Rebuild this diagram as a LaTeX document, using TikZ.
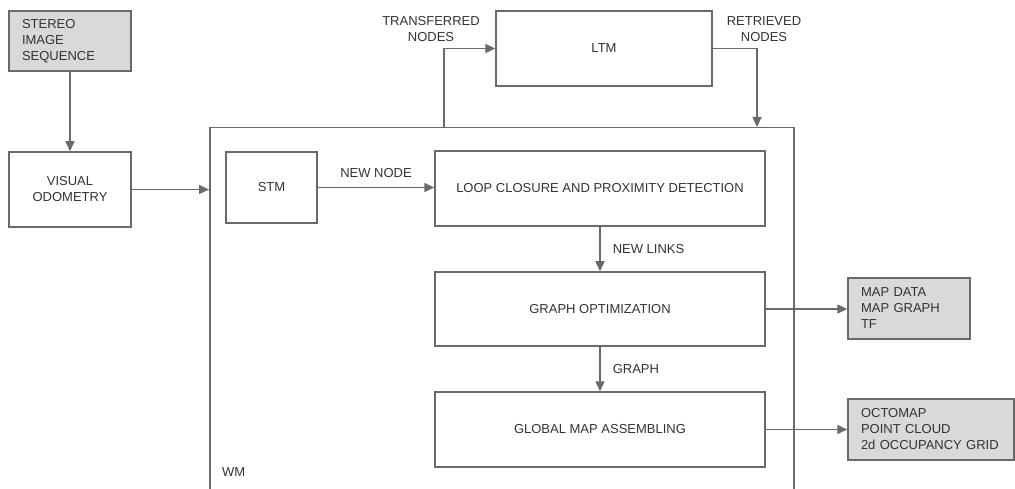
\documentclass[tikz,border=0pt]{standalone}
\usepackage{fontspec}
\setmainfont{Liberation Sans}
\usetikzlibrary{arrows.meta}
\definecolor{linegray}{HTML}{6A6A6A}
\definecolor{textgray}{HTML}{333333}
\definecolor{boxfill}{HTML}{D9D9D9}
\begin{document}
\begin{tikzpicture}[x=1pt,y=-1pt,
  font=\fontsize{13}{16}\selectfont,
  every node/.style={text=textgray},
  box/.style={draw=linegray, line width=1.5pt, fill=white, align=center, inner sep=0pt},
  outbox/.style={draw=linegray, line width=1.5pt, fill=boxfill, align=left, inner xsep=13pt, inner ysep=0pt},
  conn/.style={draw=linegray, line width=1.5pt, -{Triangle[length=10pt,width=9pt]}},
  lbl/.style={inner sep=0pt, align=center}]
\clip (0,0) rectangle (1015,489);
\fill[white] (0,0) rectangle (1015,489);

% working memory container (open below the page)
\node[draw=linegray, line width=1.5pt, minimum width=584pt, minimum height=420pt, anchor=north west, inner sep=0pt] (wm) at (209,127) {};
\node[lbl, anchor=west] (wmlabel) at (222,472) {WM};

% inputs and odometry
\node[outbox, text width=96pt, minimum height=60pt] (stereo) at (70,41) {STEREO\\IMAGE\\SEQUENCE};
\node[box, minimum width=122pt, minimum height=75pt] (vo) at (70,189.5) {VISUAL\\ODOMETRY};

% memory blocks
\node[box, minimum width=91pt, minimum height=71pt] (stm) at (271.5,187.5) {STM};
\node[box, minimum width=216pt, minimum height=75pt] (ltm) at (604,48.5) {LTM};

% processing chain
\node[box, minimum width=330pt, minimum height=75pt] (loop) at (600,188.5) {LOOP CLOSURE AND PROXIMITY DETECTION};
\node[box, minimum width=330pt, minimum height=74pt] (graph) at (600,309) {GRAPH OPTIMIZATION};
\node[box, minimum width=330pt, minimum height=75pt] (global) at (600,429.5) {GLOBAL MAP ASSEMBLING};

% outputs
\node[outbox, text width=96pt, minimum height=61pt] (mapdata) at (909,308.5) {MAP DATA\\MAP GRAPH\\TF};
\node[outbox, text width=140pt, minimum height=61pt] (octo) at (931,429.5) {OCTOMAP\\POINT CLOUD\\2d OCCUPANCY GRID};

% connectors
\draw[conn] (stereo) -- (vo);
\draw[conn] (vo.east) -- (vo.east -| wm.west);
\draw[conn] (stm.east) -- (stm.east -| loop.west)
  node[lbl, midway, above=9pt] (newnode) {NEW NODE};
\draw[conn] (loop) -- (graph)
  node[lbl, midway, right=12pt] (newlinks) {NEW LINKS};
\draw[conn] (graph) -- (global)
  node[lbl, midway, right=12pt] (graphlbl) {GRAPH};
\draw[conn] (graph.east) -- (graph.east -| mapdata.west);
\draw[conn] (global.east) -- (global.east -| octo.west);

\coordinate (transfer) at (444,127);
\coordinate (retrieve) at (757,127);
\draw[conn] (transfer) |- (ltm.west);
\draw[conn] (ltm.east) -| (retrieve);
\node[lbl] (transferlbl) at (431,29) {TRANSFERRED\\NODES};
\node[lbl] (retrievelbl) at (764,29) {RETRIEVED\\NODES};
\end{tikzpicture}
\end{document}
